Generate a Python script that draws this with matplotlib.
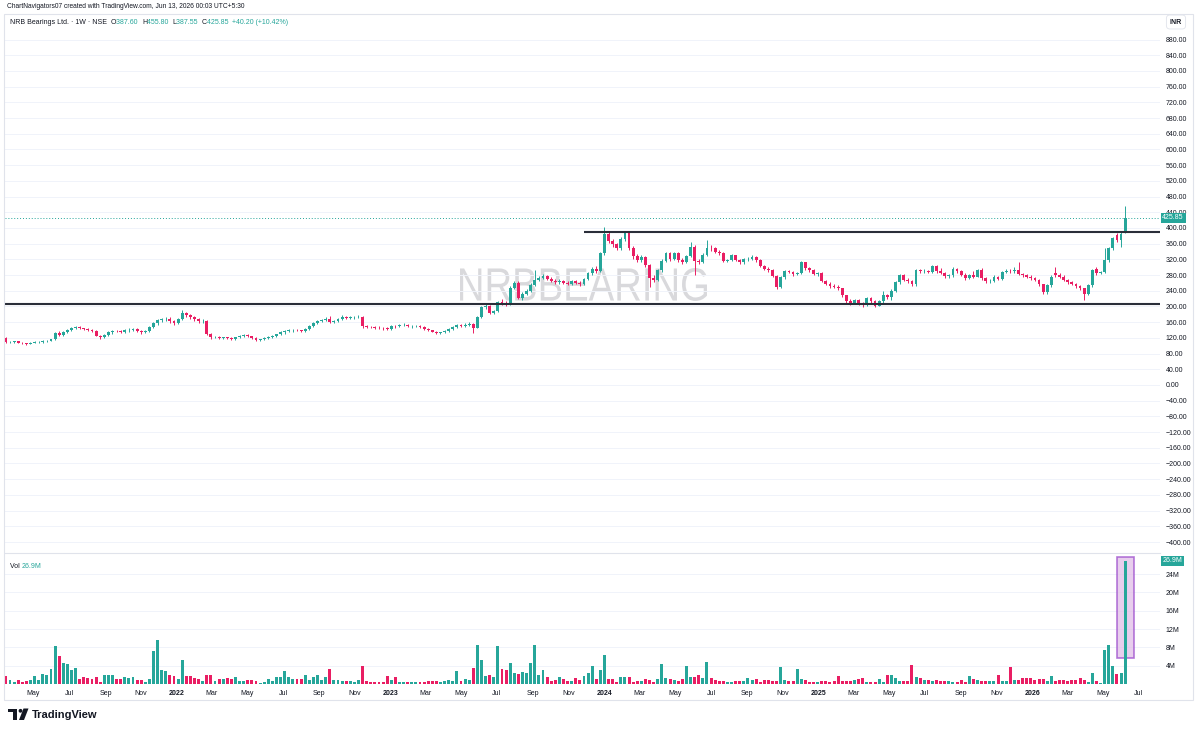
import numpy as np
import matplotlib
matplotlib.use("Agg")
import matplotlib.pyplot as plt
import matplotlib.dates as mdates
from matplotlib.patches import Rectangle, PathPatch, Circle, Polygon
from matplotlib.textpath import TextPath
from matplotlib.font_manager import FontProperties
from matplotlib.transforms import Affine2D, IdentityTransform, blended_transform_factory

plt.rcParams['font.family'] = ['Liberation Sans', 'DejaVu Sans']

W, H = 1199, 729
UP = '#26a69a'
DOWN = '#e91e63'
TXT = '#131722'
GRID = '#f0f3fa'

# weekly candles, first week starting 2021-03-15
first_week = '2021-03-15'

opens = [
    120, 109, 110, 111, 108, 106, 105, 107, 109, 110,
    112, 113, 116, 133, 128, 135, 140, 145, 147, 144,
    142, 140, 138, 126, 121, 128, 134, 138, 137, 135,
    139, 141, 143, 138, 134, 137, 147, 157, 165, 167,
    169, 162, 157, 168, 184, 178, 172, 167, 162, 164,
    131, 121, 123, 119, 121, 119, 117, 121, 124, 127,
    124, 120, 114, 116, 119, 122, 125, 129, 134, 138,
    139, 141, 139, 137, 143, 150, 158, 163, 166, 168,
    160, 162, 168, 174, 170, 172, 173, 174, 149, 148,
    147, 146, 145, 144, 143, 151, 149, 153, 154, 149,
    150, 151, 147, 143, 139, 136, 133, 134, 137, 142,
    147, 153, 151, 154, 156, 146, 172, 198, 200, 184,
    188, 212, 210, 207, 248, 261, 222, 232, 240, 255,
    268, 273, 277, 271, 266, 262, 265, 261, 258, 264,
    261, 258, 270, 284, 296, 290, 336, 385, 367, 358,
    348, 372, 386, 350, 328, 318, 325, 305, 273, 268,
    292, 316, 335, 322, 335, 318, 314, 328, 352, 316,
    314, 332, 350, 348, 340, 336, 316, 318, 330, 318,
    312, 320, 322, 326, 318, 303, 296, 292, 278, 250,
    274, 290, 288, 282, 285, 312, 298, 292, 282, 285,
    265, 258, 252, 250, 246, 228, 214, 210, 216, 207,
    205, 221, 214, 202, 213, 230, 224, 240, 262, 279,
    268, 264, 256, 292, 290, 291, 288, 302, 290, 285,
    277, 279, 296, 290, 281, 272, 279, 276, 292, 272,
    264, 266, 276, 270, 288, 291, 290, 292, 282, 279,
    276, 272, 268, 256, 236, 254, 285, 279, 276, 268,
    262, 258, 252, 246, 231, 254, 296, 285, 287, 318,
    348, 382, 369, 387.60,
]

closes = [
    109, 110, 111, 108, 106, 105, 107, 109, 110, 112,
    113, 116, 133, 128, 135, 140, 145, 147, 144, 142,
    140, 138, 126, 121, 128, 134, 138, 137, 135, 139,
    141, 143, 138, 134, 137, 147, 157, 165, 167, 169,
    162, 157, 168, 184, 178, 172, 167, 162, 164, 131,
    121, 123, 119, 121, 119, 117, 121, 124, 127, 124,
    120, 114, 116, 119, 122, 125, 129, 134, 138, 139,
    141, 139, 137, 143, 150, 158, 163, 166, 168, 160,
    162, 168, 174, 170, 172, 173, 174, 149, 148, 147,
    146, 145, 144, 143, 151, 149, 153, 154, 149, 150,
    151, 147, 143, 139, 136, 133, 134, 137, 142, 147,
    153, 151, 154, 156, 146, 172, 198, 200, 184, 188,
    212, 210, 207, 248, 261, 222, 232, 240, 255, 268,
    273, 277, 271, 266, 262, 265, 261, 258, 264, 261,
    258, 270, 284, 296, 290, 336, 385, 367, 358, 348,
    372, 386, 350, 328, 318, 325, 305, 273, 268, 292,
    316, 335, 322, 335, 318, 314, 328, 352, 316, 314,
    332, 350, 348, 340, 336, 316, 318, 330, 318, 312,
    320, 322, 326, 318, 303, 296, 292, 278, 250, 274,
    290, 288, 282, 285, 312, 298, 292, 282, 285, 265,
    258, 252, 250, 246, 228, 214, 210, 216, 207, 205,
    221, 214, 202, 213, 230, 224, 240, 262, 279, 268,
    264, 256, 292, 290, 291, 288, 302, 290, 285, 277,
    279, 296, 290, 281, 272, 279, 276, 292, 272, 264,
    266, 276, 270, 288, 291, 290, 292, 282, 279, 276,
    272, 268, 256, 236, 254, 276, 279, 276, 268, 262,
    258, 252, 246, 231, 254, 292, 285, 287, 318, 348,
    374, 369, 385.65, 425.85,
]

highs = [
    123, 112, 113, 112, 110, 108, 109, 111, 112, 114,
    115, 118, 136, 137, 137, 143, 148, 150, 149, 146,
    145, 143, 140, 128, 130, 137, 141, 141, 139, 142,
    144, 146, 145, 140, 139, 149, 160, 168, 171, 174,
    172, 165, 170, 190, 186, 181, 175, 170, 168, 166,
    133, 126, 125, 123, 123, 122, 123, 127, 130, 129,
    126, 122, 118, 121, 124, 128, 131, 137, 141, 142,
    143, 143, 141, 145, 152, 161, 166, 169, 172, 176,
    165, 170, 177, 176, 175, 176, 177, 176, 152, 151,
    150, 149, 148, 147, 154, 153, 156, 157, 156, 153,
    154, 153, 149, 145, 141, 138, 136, 139, 144, 149,
    156, 156, 157, 160, 158, 176, 200, 206, 203, 192,
    215, 218, 213, 252, 265, 264, 236, 245, 260, 293,
    278, 282, 279, 274, 269, 270, 268, 265, 268, 268,
    266, 273, 288, 300, 302, 340, 403, 392, 372, 362,
    376, 392, 389, 355, 334, 330, 328, 308, 280, 296,
    320, 340, 338, 340, 338, 323, 332, 365, 356, 320,
    336, 369, 356, 352, 344, 340, 322, 334, 332, 322,
    324, 326, 330, 329, 320, 306, 300, 295, 281, 278,
    294, 293, 291, 288, 316, 313, 300, 296, 288, 288,
    268, 262, 256, 254, 248, 230, 219, 220, 218, 212,
    224, 223, 216, 216, 240, 232, 244, 266, 283, 282,
    272, 268, 296, 296, 295, 294, 306, 305, 297, 288,
    282, 300, 299, 294, 286, 283, 290, 295, 297, 275,
    270, 279, 278, 291, 295, 296, 300, 314, 286, 283,
    280, 276, 270, 258, 256, 280, 300, 284, 279, 271,
    266, 261, 255, 248, 256, 296, 300, 291, 348, 352,
    378, 386, 390, 455.80,
]

lows = [
    107, 106, 108, 106, 104, 103, 104, 106, 107, 108,
    109, 111, 114, 126, 126, 133, 138, 142, 142, 139,
    137, 135, 124, 117, 119, 125, 131, 134, 132, 133,
    136, 138, 136, 131, 132, 135, 145, 154, 160, 164,
    159, 153, 155, 165, 174, 168, 163, 158, 158, 128,
    118, 119, 116, 117, 116, 114, 115, 119, 122, 121,
    117, 111, 112, 114, 117, 120, 123, 127, 131, 135,
    136, 137, 134, 135, 141, 148, 155, 160, 162, 157,
    157, 160, 165, 167, 168, 169, 170, 146, 145, 144,
    143, 142, 141, 140, 141, 146, 147, 150, 147, 146,
    147, 145, 141, 137, 134, 130, 130, 132, 135, 140,
    145, 148, 148, 151, 132, 144, 170, 193, 180, 180,
    185, 204, 202, 205, 244, 218, 216, 228, 237, 252,
    264, 269, 268, 262, 258, 258, 256, 254, 255, 256,
    253, 255, 268, 281, 285, 288, 330, 362, 352, 343,
    344, 368, 345, 322, 312, 314, 300, 250, 262, 265,
    288, 312, 317, 318, 314, 308, 310, 325, 280, 308,
    310, 328, 342, 336, 330, 312, 312, 315, 315, 308,
    308, 316, 318, 314, 300, 292, 288, 274, 244, 246,
    270, 284, 278, 279, 282, 294, 288, 279, 278, 262,
    255, 248, 246, 242, 225, 210, 204, 206, 203, 198,
    202, 210, 198, 200, 210, 220, 216, 236, 258, 264,
    260, 253, 252, 285, 285, 284, 284, 286, 282, 273,
    273, 276, 286, 278, 268, 270, 272, 274, 268, 260,
    261, 263, 267, 268, 285, 286, 286, 280, 275, 272,
    268, 264, 252, 232, 232, 250, 276, 272, 265, 258,
    254, 248, 243, 216, 228, 250, 281, 282, 284, 314,
    345, 365, 352, 387.55,
]

# weekly volume, millions of shares
volume_m = [
    1.8, 0.9, 0.4, 0.9, 0.5, 0.7, 0.9, 1.8, 0.9, 2.2,
    2.0, 3.3, 8.4, 6.2, 4.6, 4.4, 3.1, 3.5, 1.2, 1.5,
    1.3, 1.1, 1.5, 0.5, 2.0, 2.0, 2.0, 1.1, 1.1, 1.6,
    1.3, 1.5, 0.9, 0.9, 0.4, 1.2, 7.1, 9.6, 3.1, 2.8,
    2.0, 1.7, 1.1, 5.2, 1.7, 1.7, 1.3, 1.1, 0.6, 2.0,
    1.9, 0.7, 1.2, 1.1, 1.3, 1.1, 1.5, 0.6, 0.6, 0.9,
    0.9, 0.6, 0.2, 0.5, 1.1, 0.7, 1.5, 1.6, 2.8, 1.5,
    1.1, 1.1, 1.2, 2.0, 0.9, 1.6, 2.0, 0.9, 1.5, 3.3,
    0.9, 0.9, 0.7, 0.7, 0.7, 0.4, 0.9, 4.0, 0.7, 0.4,
    0.4, 0.4, 0.4, 1.7, 0.9, 1.5, 0.4, 0.4, 0.4, 0.4,
    0.4, 0.4, 0.4, 0.6, 0.6, 0.7, 0.4, 0.6, 0.9, 0.6,
    2.9, 0.6, 1.2, 0.9, 3.6, 8.6, 5.3, 1.7, 1.9, 1.5,
    8.2, 3.2, 3.1, 4.6, 2.5, 2.2, 2.7, 2.3, 4.6, 8.5,
    2.0, 3.1, 1.5, 0.7, 0.9, 1.5, 1.1, 0.6, 0.6, 1.3,
    0.9, 1.7, 2.4, 4.0, 1.1, 3.1,
    6.4, 1.1, 1.1, 0.4, 1.5, 1.5, 1.5, 0.5, 0.7, 0.7,
    1.2, 0.9, 0.4, 1.2, 4.4, 1.3, 1.0, 0.9, 0.7, 1.1,
    3.9, 1.5, 1.5, 2.0, 1.25, 4.8, 1.25, 0.95, 0.6, 0.6,
    0.5, 0.5, 0.6, 0.7, 0.7, 1.3, 0.95, 1.1, 0.5, 0.95,
    0.9, 0.7, 0.7, 3.8, 0.9, 0.6, 0.7, 3.3, 1.1, 0.9,
    0.5, 0.4, 0.5, 0.6, 0.65, 0.5, 0.7, 1.8, 0.7, 0.7,
    0.7, 0.9, 1.1, 1.3, 0.5, 0.5, 0.4, 1.1, 0.5, 2.0,
    2.0, 1.3, 0.7, 0.7, 0.7, 4.2, 1.5, 1.25, 0.9, 0.9,
    0.7, 0.9, 0.7, 0.6, 0.7, 0.4, 0.5, 0.95, 0.5, 1.7,
    1.1, 0.95, 0.7, 0.7, 0.7, 0.7, 2.0, 0.7, 0.7, 3.7,
    0.95, 0.95, 1.25, 1.25, 1.25, 0.95, 1.1, 1.1, 0.6, 1.7,
    0.6, 0.9, 0.9, 0.7, 0.95, 0.9, 1.25, 0.9, 0.5, 2.4,
    0.7, 0.2, 7.5, 8.5, 3.9, 2.2, 2.4, 26.9,
]

support = 206
resistance = 390
resistance_from = '2023-11-27'
price_ticks = list(range(-400, 881, 40))
vol_ticks = [4, 8, 12, 16, 20, 24]

n = len(closes)
assert len(opens) == n and len(highs) == n and len(lows) == n and len(volume_m) == n, \
    (len(opens), len(closes), len(highs), len(lows), len(volume_m))

o = np.array(opens, float)
c = np.array(closes, float)
hi = np.maximum(np.array(highs, float), np.maximum(o, c))
lo = np.minimum(np.array(lows, float), np.minimum(o, c))
vol = np.array(volume_m, float)
dates = np.datetime64(first_week) + np.arange(n) * np.timedelta64(7, 'D')
x = mdates.date2num(dates)
up = c >= o
colors = np.where(up, UP, DOWN)

fig = plt.figure(figsize=(W / 100, H / 100), dpi=100)
fig.patch.set_facecolor('white')


def box(l, t, r, b):
    return [l / W, 1 - b / H, (r - l) / W, (b - t) / H]


ax = fig.add_axes(box(5, 14, 1160, 553))
axv = fig.add_axes(box(5, 553, 1160, 684), sharex=ax)

x_left = x[0] - 1.5
x_right = x[0] + 281.5 * 7

for a in (ax, axv):
    a.set_facecolor('none')
    for s in a.spines.values():
        s.set_visible(False)
    a.yaxis.tick_right()
    a.tick_params(axis='y', length=0, pad=4, labelsize=5, labelcolor=TXT)
    a.grid(axis='y', color=GRID, lw=0.7)
    a.set_axisbelow(True)
axv.spines['top'].set_visible(True)
axv.spines['top'].set_color('#e0e3eb')
axv.spines['top'].set_linewidth(0.8)

# candles
ax.vlines(x, lo, hi, colors=colors, lw=0.7, zorder=2)
body = np.maximum(np.abs(c - o), 0.8)
ax.bar(x, body, bottom=np.minimum(o, c), width=4.9, color=colors, zorder=3)

ax.set_xlim(x_left, x_right)
ax.set_ylim(-428, 945)
ax.set_yticks(price_ticks)
ax.set_yticklabels([f"{v:.2f}".replace('-', '\u2212') for v in price_ticks])
ax.tick_params(axis='x', bottom=False, labelbottom=False)

# support / resistance
ax.hlines(support, x_left, x_right, color='#2a2e39', lw=1.5, zorder=4)
ax.hlines(resistance, mdates.date2num(np.datetime64(resistance_from)), x_right,
          color='#2a2e39', lw=1.5, zorder=4)

# last price line and label
ax.axhline(c[-1], color=UP, lw=0.7, ls=(0, (1, 2)), zorder=1)
tr_p = blended_transform_factory(ax.transAxes, ax.transData)
ax.text(1.002, c[-1], f"{c[-1]:.2f}", transform=tr_p, ha='left', va='center',
        fontsize=5, color='white', zorder=6,
        bbox=dict(boxstyle='square,pad=0.25', fc=UP, ec='none'))

# watermark
fp = FontProperties(family='Liberation Sans')
tp = TextPath((0, 0), 'NRBBEARING', size=1, prop=fp)
ext = tp.get_extents()
wm = Affine2D().translate(-ext.x0, -ext.y0).scale(247 / ext.width, 33 / ext.height) \
    .translate(460, H - 301)
ax.add_patch(PathPatch(tp, transform=wm, fc='#d9d9dc', ec='none', zorder=0.5,
                       clip_on=False))

# volume
axv.bar(x, vol, width=5.0, color=colors, zorder=2)
axv.set_ylim(0, 28.6)
axv.set_yticks(vol_ticks)
axv.set_yticklabels([f"{v}M" for v in vol_ticks])
tr_v = blended_transform_factory(axv.transAxes, axv.transData)
axv.text(1.002, vol[-1], f"{vol[-1]:.1f}M", transform=tr_v, ha='left', va='center',
         fontsize=5, color='white', zorder=6,
         bbox=dict(boxstyle='square,pad=0.25', fc=UP, ec='none'))
axv.add_patch(Rectangle((x[-1] - 14.5, 5.7), 29, 22.1, fc='#e1bee7', ec='#9c4dcc',
                        lw=1.2, alpha=0.75, zorder=1))

axv.xaxis.set_major_locator(mdates.MonthLocator(bymonth=[1, 3, 5, 7, 9, 11]))
axv.xaxis.set_major_formatter(
    plt.FuncFormatter(lambda v, p: mdates.num2date(v).strftime('%Y' if mdates.num2date(v).month == 1 else '%b')))
axv.tick_params(axis='x', length=0, pad=4, labelsize=5, labelcolor=TXT)
fig.canvas.draw()
for lab in axv.get_xticklabels():
    if lab.get_text().isdigit():
        lab.set_fontweight('bold')

# frame
fig.add_artist(Rectangle((4, H - 700), 1189, 686, transform=IdentityTransform(),
                         fill=False, ec='#e0e3eb', lw=0.8))

# header text
renderer = fig.canvas.get_renderer()


def text_run(px, py, pieces, size, weight='normal'):
    for s, col in pieces:
        t = fig.text(px / W, 1 - py / H, s, color=col, fontsize=size, ha='left',
                     va='center', fontweight=weight)
        px += t.get_window_extent(renderer=renderer).width


text_run(7, 7, [("ChartNavigators07 created with TradingView.com, Jun 13, 2026 00:03 UTC+5:30", TXT)], 4.8)
change = c[-1] - c[-2]
pct = change / c[-2] * 100
text_run(10, 22, [("NRB Bearings Ltd. \u00b7 1W \u00b7 NSE  ", TXT),
                  ("O", TXT), (f"{o[-1]:.2f}  ", UP),
                  ("H", TXT), (f"{hi[-1]:.2f}  ", UP),
                  ("L", TXT), (f"{lo[-1]:.2f}  ", UP),
                  ("C", TXT), (f"{c[-1]:.2f}  ", UP),
                  (f"+{change:.2f} (+{pct:.2f}%)", UP)], 5)
text_run(10, 566, [("Vol ", TXT), (f"{vol[-1]:.1f}M", UP)], 5)
fig.text(1176 / W, 1 - 22 / H, "INR", fontsize=5, color=TXT, ha='center', va='center',
         fontweight='bold',
         bbox=dict(boxstyle='round,pad=0.5', fc='white', ec='#e0e3eb', lw=0.6))

# TradingView logo
ident = IdentityTransform()
fig.add_artist(Rectangle((8, H - 712), 9, 3.5, transform=ident, fc=TXT, ec='none'))
fig.add_artist(Rectangle((12.5, H - 720), 4.5, 11, transform=ident, fc=TXT, ec='none'))
fig.add_artist(Circle((20.5, H - 710.8), 1.9, transform=ident, fc=TXT, ec='none'))
fig.add_artist(Polygon([(23.5, H - 708.5), (28.5, H - 708.5), (24, H - 720), (19, H - 720)],
                       transform=ident, fc=TXT, ec='none'))
fig.text(32 / W, 1 - 714.5 / H, "TradingView", fontsize=8, fontweight='bold', color=TXT,
         ha='left', va='center')

fig.savefig('out.png', dpi=100, facecolor='white')
